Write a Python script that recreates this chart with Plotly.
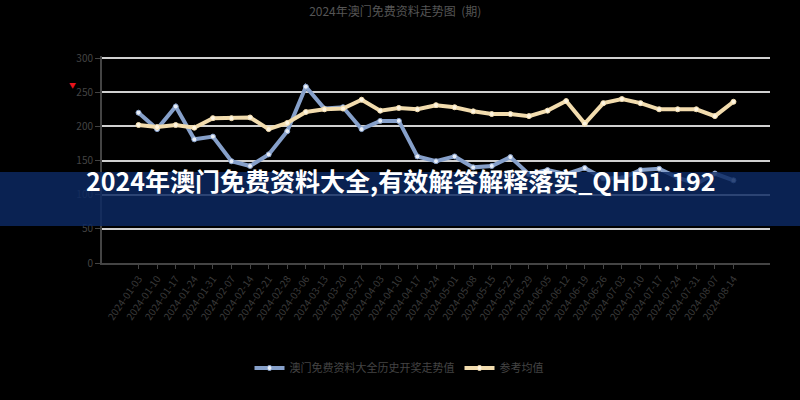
import plotly.graph_objects as go

categories = [f"2024-{m:02d}-{d:02d}" for m, d in [
    (1, 3), (1, 10), (1, 17), (1, 24), (1, 31), (2, 7), (2, 14), (2, 21), (2, 28),
    (3, 6), (3, 13), (3, 20), (3, 27), (4, 3), (4, 10), (4, 17), (4, 24), (5, 1),
    (5, 8), (5, 15), (5, 22), (5, 29), (6, 5), (6, 12), (6, 19), (6, 26), (7, 3),
    (7, 10), (7, 17), (7, 24), (7, 31), (8, 7), (8, 14)]]

series_blue = [220, 196, 229, 181, 185, 149, 142, 159, 193, 258, 226, 228, 196, 208,
               208, 156, 149, 156, 140, 142, 155, 130, 136, 130, 139, 124, 124, 136,
               138, 125, 116, 131, 121]
series_gold = [202, 199, 202, 198, 212, 212, 213, 196, 205, 221, 225, 226, 239, 223,
               227, 225, 231, 228, 222, 218, 218, 215, 223, 237, 204, 234, 240, 234,
               225, 225, 225, 215, 236]

y_ticks = [0, 50, 100, 150, 200, 250, 300]

name_blue = "澳门免费资料大全历史开奖走势值"
name_gold = "参考均值"
title_text = "2024年澳门免费资料走势图  (期)"
banner_text = "2024年澳门免费资料大全,有效解答解释落实_QHD1.192"

fig = go.Figure()
fig.add_trace(go.Scatter(
    x=categories, y=series_blue, name=name_blue, mode="lines+markers",
    line=dict(color="#86a0ca", width=4),
    marker=dict(size=5, color="#e8eef8", line=dict(color="#86a0ca", width=1))))
fig.add_trace(go.Scatter(
    x=categories, y=series_gold, name=name_gold, mode="lines+markers",
    line=dict(color="#f2dcae", width=4),
    marker=dict(size=5, color="#fff6e2", line=dict(color="#f2dcae", width=1))))

T, B, L, R = 56, 137, 102, 30
ph = 400 - T - B
pw = 800 - L - R

fig.update_layout(
    width=800, height=400,
    paper_bgcolor="#000000", plot_bgcolor="#000000",
    margin=dict(l=L, r=R, t=T, b=B),
    font=dict(family="Noto Sans CJK SC, Noto Sans, sans-serif", color="#444444", size=10),
    title=dict(text=title_text, x=0.494, xanchor="center", y=0.97, yanchor="middle",
               font=dict(size=12, color="#555555")),
    showlegend=True,
    legend=dict(orientation="h", x=(399 - L) / pw, xanchor="center",
                y=-(368 - (400 - B)) / ph, yanchor="middle",
                font=dict(size=11, color="#444444"), itemwidth=30),
    xaxis=dict(type="category", showgrid=False, showline=True, linecolor="#444444",
               linewidth=2, ticks="outside", ticklen=4, tickcolor="#444444",
               tickangle=-55, tickfont=dict(size=10, color="#3a3a3a")),
    yaxis=dict(range=[0, 303], tickvals=y_ticks, showgrid=True, gridcolor="#d0d0d0",
               gridwidth=2, showline=True, linecolor="#444444", linewidth=2,
               ticks="outside", ticklen=5, tickcolor="#444444", zeroline=False,
               tickfont=dict(size=10, color="#444444")),
)

fig.add_annotation(xref="paper", yref="paper", x=(67 - L) / pw,
                   y=(400 - B - 78) / ph, text="▼",
                   showarrow=False, font=dict(size=7, color="#e8141e"))

fig.add_shape(type="rect", xref="paper", yref="paper", x0=-0.2, x1=1.1,
              y0=(400 - B - 226) / ph, y1=(400 - B - 172) / ph,
              fillcolor="rgba(12,40,98,0.84)", line=dict(width=0), layer="above")
fig.add_annotation(xref="paper", yref="paper", x=(400 - L) / pw,
                   y=(400 - B - 200) / ph, text=f"<b>{banner_text}</b>",
                   showarrow=False, font=dict(size=25, color="#ffffff",
                                              family="Noto Sans CJK SC, sans-serif"))

fig.write_html("out.html", config={"displayModeBar": False},
               post_script="document.body.style.margin='0';document.body.style.background='#000';")
